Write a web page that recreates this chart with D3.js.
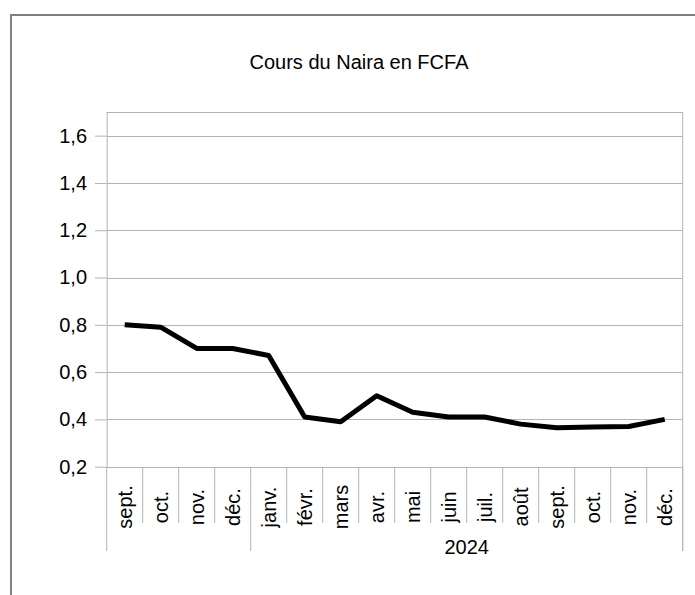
<!DOCTYPE html>
<html>
<head>
<meta charset="utf-8">
<script src="https://cdn.jsdelivr.net/npm/d3@7"></script>
<style>
  html, body { margin: 0; padding: 0; background: #fff; }
  svg { display: block; }
  text { font-family: "Liberation Sans", Arial, sans-serif; fill: #000; }
</style>
</head>
<body>
<svg id="chart" width="695" height="595"></svg>
<script>
const title = "Cours du Naira en FCFA";
const months = ["sept.","oct.","nov.","déc.","janv.","févr.","mars","avr.","mai","juin","juil.","août","sept.","oct.","nov.","déc."];
const yearLabels = ["", "2024"];
const yearCounts = [4, 12];
const values = [0.80, 0.79, 0.70, 0.70, 0.67, 0.41, 0.39, 0.50, 0.43, 0.41, 0.41, 0.38, 0.365, 0.368, 0.37, 0.40];
const yTicks = [0.2, 0.4, 0.6, 0.8, 1.0, 1.2, 1.4, 1.6];

const svg = d3.select("#chart");
const pL = 106.7, pR = 682.7, pT = 112, pB = 466.7;
const gridColor = "#b3b3b3";

// outer frame
svg.append("rect").attr("x", 11).attr("y", 15).attr("width", 800).attr("height", 700)
  .attr("fill", "none").attr("stroke", "#808080").attr("stroke-width", 2);

// title
svg.append("text").attr("x", 359).attr("y", 69).attr("text-anchor", "middle")
  .style("font-size", "20px").text(title);

const idx = months.map((m, i) => i);
const x = d3.scaleBand().domain(idx).range([pL, pR]).padding(0);
const y = d3.scaleLinear().domain([0.2, 1.7]).range([pB, pT]);

const locale = d3.formatLocale({decimal: ",", thousands: " ", grouping: [3], currency: ["", ""]});
const fmt = locale.format(".1f");

// gridlines
svg.append("g").selectAll("line").data(yTicks.slice(1)).join("line")
  .attr("x1", pL).attr("x2", pR)
  .attr("y1", d => Math.round(y(d)) + 0.5).attr("y2", d => Math.round(y(d)) + 0.5)
  .attr("stroke", gridColor).attr("stroke-width", 1);

// plot border top / right
svg.append("line").attr("x1", pL).attr("x2", pR).attr("y1", pT + 0.5).attr("y2", pT + 0.5)
  .attr("stroke", gridColor);
svg.append("line").attr("x1", pR).attr("x2", pR).attr("y1", pT).attr("y2", 551)
  .attr("stroke", gridColor);

// y axis
const yAxis = svg.append("g").attr("transform", `translate(${pL},0)`)
  .call(d3.axisLeft(y).tickValues(yTicks).tickFormat(fmt).tickSize(11.7).tickPadding(8));
yAxis.select(".domain").attr("stroke", gridColor).attr("d", `M0.5,${pT}V${pB}`);
yAxis.selectAll(".tick line").attr("stroke", gridColor);
yAxis.selectAll(".tick text").style("font-size", "20px").attr("fill", "#000");

// x axis baseline
svg.append("line").attr("x1", pL).attr("x2", pR).attr("y1", Math.round(pB) + 0.5).attr("y2", Math.round(pB) + 0.5)
  .attr("stroke", gridColor);

// category separators
const groupStarts = [0];
yearCounts.forEach((c, i) => groupStarts.push(groupStarts[i] + c));
const boundaries = d3.range(months.length + 1);
svg.append("g").selectAll("line").data(boundaries).join("line")
  .attr("x1", d => d < months.length ? x(d) : pR)
  .attr("x2", d => d < months.length ? x(d) : pR)
  .attr("y1", pB)
  .attr("y2", d => groupStarts.includes(d) ? 551 : 523)
  .attr("stroke", gridColor);

// month labels
svg.append("g").selectAll("text").data(idx).join("text")
  .attr("transform", d => `translate(${x(d) + x.bandwidth() / 2 + 7},507) rotate(-90)`)
  .attr("text-anchor", "middle")
  .style("font-size", "20px")
  .text(d => months[d]);

// year labels
svg.append("g").selectAll("text").data(yearLabels).join("text")
  .attr("x", (d, i) => {
    const a = x(groupStarts[i]);
    const b = groupStarts[i + 1] < months.length ? x(groupStarts[i + 1]) : pR;
    return (a + b) / 2;
  })
  .attr("y", 554)
  .attr("text-anchor", "middle")
  .style("font-size", "20px")
  .text(d => d);

// line
const line = d3.line().x((d, i) => x(i) + x.bandwidth() / 2).y(d => y(d));
svg.append("path").datum(values).attr("d", line)
  .attr("fill", "none").attr("stroke", "#000").attr("stroke-width", 5)
  .attr("stroke-linejoin", "round");
</script>
</body>
</html>
